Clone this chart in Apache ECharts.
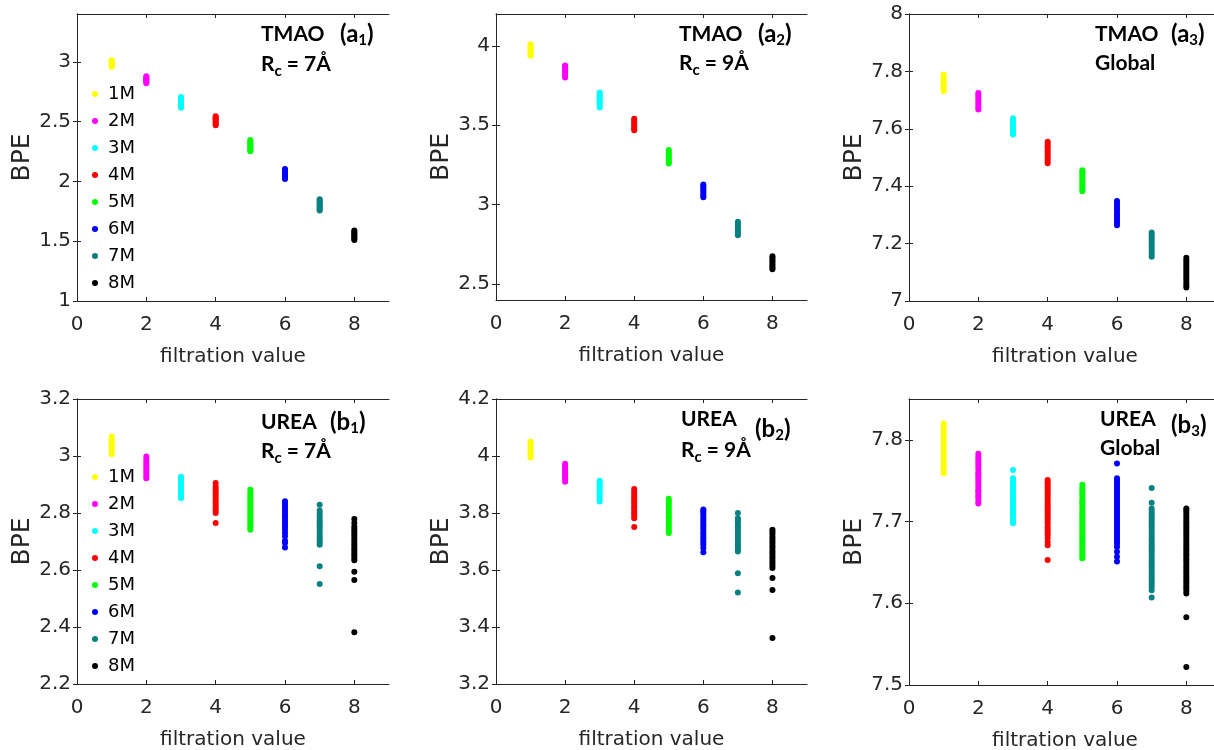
<!DOCTYPE html>
<html><head><meta charset="utf-8">
<script src="https://cdn.jsdelivr.net/npm/echarts@6/dist/echarts.min.js"></script>
<style>html,body{margin:0;padding:0;background:#fff}#c{width:1214px;height:750px}</style>
</head><body><div id="c"></div>
<script>
// ---------- data ----------
const concentrations = ['1M', '2M', '3M', '4M', '5M', '6M', '7M', '8M'];
const filtrationValues = [1, 2, 3, 4, 5, 6, 7, 8];
const xTickValues = [0, 2, 4, 6, 8];
const xRange = [0, 9];

// TMAO, Rc = 7 Å  (a1)
const tmaoR7 = [
  [2.958, 2.969, 2.978, 2.99, 3.0, 3.007, 3.014],
  [2.82, 2.829, 2.841, 2.852, 2.86, 2.871, 2.88],
  [2.616, 2.627, 2.64, 2.651, 2.663, 2.672, 2.684, 2.695, 2.706],
  [2.47, 2.481, 2.493, 2.505, 2.515, 2.526, 2.535, 2.544],
  [2.252, 2.263, 2.275, 2.288, 2.3, 2.311, 2.322, 2.336, 2.347],
  [2.02, 2.031, 2.043, 2.055, 2.066, 2.079, 2.09, 2.103],
  [1.756, 1.768, 1.779, 1.791, 1.804, 1.816, 1.828, 1.84, 1.851],
  [1.51, 1.521, 1.533, 1.545, 1.556, 1.567, 1.579, 1.59]
];
const tmaoR7Ticks = [1, 1.5, 2, 2.5, 3];
const tmaoR7Range = [1, 3.4];

// TMAO, Rc = 9 Å  (a2)
const tmaoR9 = [
  [3.937, 3.946, 3.958, 3.97, 3.981, 3.993, 4.002, 4.01],
  [3.8, 3.811, 3.823, 3.836, 3.848, 3.86, 3.869, 3.876],
  [3.612, 3.623, 3.636, 3.648, 3.66, 3.672, 3.684, 3.695, 3.706],
  [3.468, 3.479, 3.491, 3.503, 3.516, 3.528, 3.541],
  [3.259, 3.27, 3.282, 3.295, 3.307, 3.32, 3.332, 3.344],
  [3.047, 3.058, 3.07, 3.083, 3.095, 3.107, 3.117, 3.127],
  [2.807, 2.818, 2.83, 2.843, 2.856, 2.868, 2.881, 2.892],
  [2.593, 2.604, 2.616, 2.628, 2.64, 2.652, 2.664, 2.675]
];
const tmaoR9Ticks = [2.5, 3, 3.5, 4];
const tmaoR9Range = [2.4, 4.2];

// TMAO, global  (a3)
const tmaoGlobal = [
  [7.731, 7.739, 7.748, 7.757, 7.764, 7.772, 7.781, 7.788],
  [7.667, 7.675, 7.684, 7.692, 7.701, 7.709, 7.717, 7.725],
  [7.58, 7.588, 7.597, 7.605, 7.613, 7.621, 7.63, 7.637],
  [7.48, 7.488, 7.497, 7.505, 7.514, 7.522, 7.531, 7.539, 7.547, 7.555],
  [7.382, 7.39, 7.399, 7.407, 7.416, 7.424, 7.432, 7.44, 7.449, 7.456],
  [7.264, 7.272, 7.281, 7.29, 7.298, 7.306, 7.315, 7.323, 7.332, 7.34, 7.348],
  [7.154, 7.162, 7.171, 7.179, 7.188, 7.197, 7.205, 7.213, 7.222, 7.231, 7.239],
  [7.047, 7.055, 7.064, 7.073, 7.081, 7.09, 7.098, 7.107, 7.116, 7.125, 7.133, 7.142, 7.151]
];
const tmaoGlobalTicks = [7, 7.2, 7.4, 7.6, 7.8, 8];
const tmaoGlobalRange = [7, 8];

// UREA, Rc = 7 Å  (b1)
const ureaR7 = [
  [3.006, 3.013, 3.021, 3.03, 3.037, 3.046, 3.052, 3.06, 3.068],
  [2.922, 2.93, 2.939, 2.947, 2.955, 2.963, 2.971, 2.98, 2.988, 2.998],
  [2.852, 2.86, 2.868, 2.877, 2.885, 2.894, 2.902, 2.91, 2.919, 2.927],
  [2.765, 2.8, 2.808, 2.817, 2.825, 2.834, 2.842, 2.851, 2.86, 2.868, 2.876, 2.885, 2.893, 2.905],
  [2.741, 2.749, 2.758, 2.766, 2.775, 2.783, 2.792, 2.8, 2.809, 2.818, 2.826, 2.835, 2.843, 2.852, 2.861, 2.87, 2.882],
  [2.679, 2.695, 2.703, 2.718, 2.73, 2.741, 2.75, 2.758, 2.767, 2.775, 2.784, 2.792, 2.801, 2.81, 2.818, 2.827, 2.835, 2.841],
  [2.551, 2.613, 2.689, 2.697, 2.706, 2.714, 2.723, 2.731, 2.74, 2.749, 2.757, 2.766, 2.774, 2.783, 2.791, 2.8, 2.809, 2.829],
  [2.382, 2.565, 2.594, 2.634, 2.642, 2.651, 2.659, 2.668, 2.676, 2.685, 2.693, 2.702, 2.71, 2.719, 2.727, 2.736, 2.744, 2.753, 2.765, 2.779]
];
const ureaR7Ticks = [2.2, 2.4, 2.6, 2.8, 3, 3.2];
const ureaR7Range = [2.2, 3.2];

// UREA, Rc = 9 Å  (b2)
const ureaR9 = [
  [3.995, 4.003, 4.011, 4.02, 4.028, 4.036, 4.044, 4.05],
  [3.91, 3.918, 3.926, 3.935, 3.943, 3.951, 3.96, 3.967, 3.973],
  [3.84, 3.848, 3.857, 3.865, 3.873, 3.882, 3.89, 3.898, 3.906, 3.913],
  [3.751, 3.782, 3.79, 3.799, 3.807, 3.816, 3.824, 3.833, 3.841, 3.85, 3.858, 3.867, 3.875, 3.884],
  [3.73, 3.738, 3.747, 3.755, 3.764, 3.772, 3.781, 3.789, 3.798, 3.806, 3.815, 3.823, 3.832, 3.841, 3.85],
  [3.662, 3.677, 3.689, 3.697, 3.706, 3.714, 3.723, 3.731, 3.74, 3.748, 3.757, 3.765, 3.774, 3.782, 3.791, 3.799, 3.806, 3.812],
  [3.521, 3.589, 3.665, 3.673, 3.682, 3.69, 3.699, 3.707, 3.716, 3.724, 3.733, 3.741, 3.75, 3.758, 3.767, 3.775, 3.782, 3.8],
  [3.361, 3.53, 3.572, 3.607, 3.615, 3.624, 3.632, 3.641, 3.649, 3.658, 3.666, 3.675, 3.683, 3.692, 3.7, 3.709, 3.717, 3.726, 3.734, 3.741]
];
const ureaR9Ticks = [3.2, 3.4, 3.6, 3.8, 4, 4.2];
const ureaR9Range = [3.2, 4.2];

// UREA, global  (b3)
const ureaGlobal = [
  [7.759, 7.761, 7.765, 7.768, 7.772, 7.774, 7.778, 7.781, 7.783, 7.787, 7.79, 7.793, 7.795, 7.799, 7.802, 7.805, 7.808, 7.811, 7.814, 7.817, 7.82],
  [7.722, 7.724, 7.728, 7.731, 7.734, 7.737, 7.739, 7.743, 7.746, 7.749, 7.752, 7.755, 7.758, 7.76, 7.764, 7.767, 7.77, 7.773, 7.776, 7.779, 7.783],
  [7.698, 7.701, 7.705, 7.708, 7.711, 7.714, 7.717, 7.72, 7.724, 7.727, 7.73, 7.733, 7.736, 7.739, 7.742, 7.745, 7.748, 7.751, 7.753, 7.763],
  [7.653, 7.671, 7.675, 7.68, 7.684, 7.687, 7.69, 7.693, 7.697, 7.7, 7.703, 7.706, 7.709, 7.712, 7.715, 7.718, 7.721, 7.724, 7.727, 7.73, 7.733, 7.736, 7.739, 7.742, 7.745, 7.748, 7.751],
  [7.655, 7.658, 7.661, 7.664, 7.667, 7.67, 7.673, 7.676, 7.679, 7.682, 7.685, 7.688, 7.691, 7.694, 7.697, 7.7, 7.703, 7.706, 7.709, 7.712, 7.716, 7.719, 7.722, 7.725, 7.728, 7.732, 7.735, 7.738, 7.741, 7.745],
  [7.651, 7.657, 7.663, 7.669, 7.673, 7.676, 7.679, 7.682, 7.685, 7.688, 7.691, 7.694, 7.697, 7.7, 7.703, 7.706, 7.709, 7.712, 7.715, 7.718, 7.721, 7.724, 7.727, 7.73, 7.733, 7.736, 7.739, 7.742, 7.745, 7.748, 7.751, 7.753, 7.771],
  [7.607, 7.616, 7.62, 7.623, 7.626, 7.629, 7.632, 7.635, 7.638, 7.641, 7.644, 7.647, 7.65, 7.653, 7.656, 7.659, 7.662, 7.665, 7.668, 7.671, 7.674, 7.677, 7.68, 7.683, 7.686, 7.689, 7.692, 7.695, 7.698, 7.701, 7.704, 7.707, 7.71, 7.713, 7.716, 7.723, 7.741],
  [7.522, 7.583, 7.612, 7.615, 7.618, 7.621, 7.624, 7.627, 7.63, 7.633, 7.636, 7.639, 7.642, 7.645, 7.648, 7.651, 7.654, 7.657, 7.66, 7.663, 7.666, 7.669, 7.672, 7.675, 7.678, 7.681, 7.684, 7.687, 7.69, 7.693, 7.696, 7.699, 7.702, 7.705, 7.708, 7.711, 7.714, 7.716]
];
const ureaGlobalTicks = [7.5, 7.6, 7.7, 7.8];
const ureaGlobalRange = [7.5, 7.85];

// ---------- styling / layout ----------
const seriesColors = ['#ffff00', '#ff00ff', '#00ffff', '#ff0000', '#00ff00', '#0000ff', '#0a8080', '#000000'];
const axisColor = '#262626';
const axisFont = 'DejaVu Sans';
const noteFont = 'Lato';

const panels = [
  {values: tmaoR7, ticks: tmaoR7Ticks, range: tmaoR7Range, box: [77, 14, 312, 287]},
  {values: tmaoR9, ticks: tmaoR9Ticks, range: tmaoR9Range, box: [496, 14, 311, 286]},
  {values: tmaoGlobal, ticks: tmaoGlobalTicks, range: tmaoGlobalRange, box: [909, 14, 312, 287]},
  {values: ureaR7, ticks: ureaR7Ticks, range: ureaR7Range, box: [77, 399, 312, 285]},
  {values: ureaR9, ticks: ureaR9Ticks, range: ureaR9Range, box: [496, 399, 311, 285]},
  {values: ureaGlobal, ticks: ureaGlobalTicks, range: ureaGlobalRange, box: [909, 399, 312, 286]}
];

const grid = [], xAxis = [], yAxis = [], series = [];
const lineStyle = {color: axisColor, width: 1};

panels.forEach((p, i) => {
  const [l, t, w, h] = p.box;
  grid.push({left: l, top: t, width: w, height: h, outerBoundsMode: 'none', containLabel: false});
  xAxis.push({
    type: 'value', gridIndex: i, position: 'bottom', min: xRange[0], max: xRange[1],
    axisLine: {show: true, lineStyle}, splitLine: {show: false},
    axisTick: {show: true, inside: true, length: 4, lineStyle, customValues: xTickValues},
    axisLabel: {show: true, margin: 14, color: axisColor, fontSize: 20, fontFamily: axisFont, customValues: xTickValues},
    name: 'filtration value', nameLocation: 'middle', nameGap: 46,
    nameTextStyle: {color: axisColor, fontSize: 20, fontFamily: axisFont}
  });
  xAxis.push({
    type: 'value', gridIndex: i, position: 'top', min: xRange[0], max: xRange[1],
    axisLine: {show: true, lineStyle}, splitLine: {show: false},
    axisTick: {show: true, inside: true, length: 4, lineStyle, customValues: xTickValues},
    axisLabel: {show: false}
  });
  yAxis.push({
    type: 'value', gridIndex: i, position: 'left', min: p.range[0], max: p.range[1],
    axisLine: {show: true, lineStyle}, splitLine: {show: false},
    axisTick: {show: true, inside: true, length: 4, lineStyle, customValues: p.ticks},
    axisLabel: {show: true, margin: 6, color: axisColor, fontSize: 20, fontFamily: axisFont, customValues: p.ticks},
    name: 'BPE', nameLocation: 'middle', nameGap: 40, nameRotate: 90,
    nameTextStyle: {color: axisColor, fontSize: 25, fontFamily: axisFont}
  });
  yAxis.push({
    type: 'value', gridIndex: i, position: 'right', min: p.range[0], max: p.range[1],
    axisLine: {show: true, lineStyle}, splitLine: {show: false},
    axisTick: {show: true, inside: true, length: 4, lineStyle, customValues: p.ticks},
    axisLabel: {show: false}
  });
  p.values.forEach((vals, k) => {
    series.push({
      type: 'scatter', name: concentrations[k], xAxisIndex: 2 * i, yAxisIndex: 2 * i,
      data: vals.map(v => [filtrationValues[k], v]),
      symbol: 'circle', symbolSize: 6, itemStyle: {color: seriesColors[k], opacity: 1},
      silent: true, animation: false
    });
  });
});

function legendAt(left, top) {
  return {
    orient: 'vertical', left, top, padding: 0, itemGap: 7, itemWidth: 6, itemHeight: 6,
    icon: 'circle', selectedMode: false, data: concentrations,
    textStyle: {fontSize: 18, lineHeight: 20, color: '#000', fontFamily: axisFont, padding: [0, 0, 0, 5]}
  };
}

// annotation texts
const richBase = {
  m: {fontSize: 21, fontWeight: 'bold', fontFamily: noteFont, fill: '#000', lineHeight: 28},
  p: {fontSize: 24, fontWeight: 'bold', fontFamily: noteFont, fill: '#000', lineHeight: 28},
  s: {fontSize: 15, fontWeight: 'bold', fontFamily: noteFont, fill: '#000', lineHeight: 15, verticalAlign: 'bottom'}
};
function note(left, top, text) {
  return {type: 'text', left, top, silent: true, style: {text, rich: richBase}};
}
const notes = [
  note(261, 24, '{m|TMAO}'), note(340, 22, '{p|(a}{s|1}{p|)}'), note(261, 54, '{m|R}{s|c}{m| = 7Å}'),
  note(679, 24, '{m|TMAO}'), note(758, 22, '{p|(a}{s|2}{p|)}'), note(679, 53, '{m|R}{s|c}{m| = 9Å}'),
  note(1095, 24, '{m|TMAO}'), note(1171, 22, '{p|(a}{s|3}{p|)}'), note(1095, 53, '{m|Global}'),
  note(261, 412, '{m|UREA}'), note(330, 410, '{p|(b}{s|1}{p|)}'), note(261, 441, '{m|R}{s|c}{m| = 7Å}'),
  note(681, 409, '{m|UREA}'), note(755, 417, '{p|(b}{s|2}{p|)}'), note(681, 440, '{m|R}{s|c}{m| = 9Å}'),
  note(1100, 409, '{m|UREA}'), note(1171, 413, '{p|(b}{s|3}{p|)}'), note(1100, 438, '{m|Global}')
];

const option = {
  animation: false,
  backgroundColor: '#ffffff',
  grid, xAxis, yAxis, series,
  legend: [legendAt(92, 84), legendAt(92, 467)],
  graphic: notes
};

const chart = echarts.init(document.getElementById('c'), null, {renderer: 'canvas'});
chart.setOption(option);
</script></body></html>
